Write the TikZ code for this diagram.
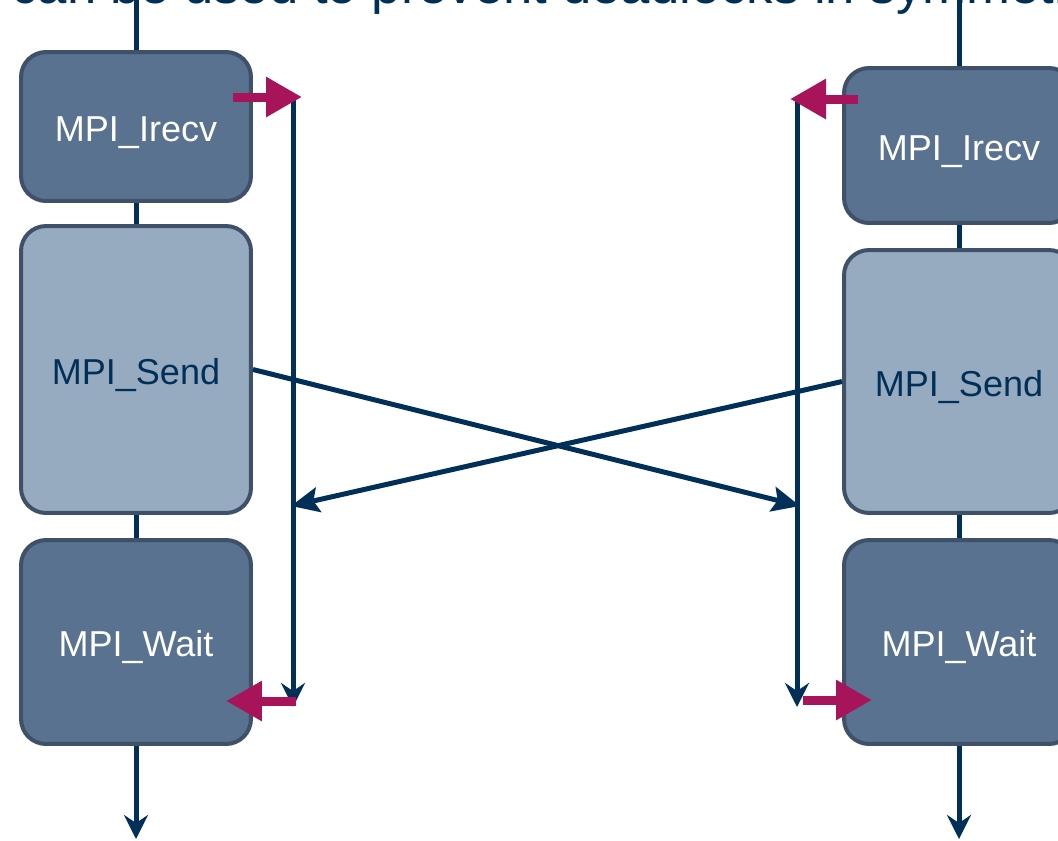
\documentclass[tikz,border=0pt]{standalone}
\usepackage{fontspec}
\setmainfont{Liberation Sans}
\usetikzlibrary{arrows.meta}
\definecolor{navy}{HTML}{003057}
\definecolor{darkbox}{HTML}{587290}
\definecolor{lightbox}{HTML}{97ABC0}
\definecolor{boxedge}{HTML}{3E5169}
\definecolor{sigmag}{HTML}{A8145A}
\begin{document}
\begin{tikzpicture}[x=0.02cm,y=-0.02cm,
  opbox/.style={draw=boxedge, line width=0.08cm, rounded corners=0.5cm,
    minimum width=4.6cm, inner sep=0pt,
    text height=16.5pt, text depth=0pt,
    font=\fontsize{20.5}{24}\selectfont},
  darkop/.style={opbox, fill=darkbox, text=white},
  lightop/.style={opbox, fill=lightbox, text=navy},
  flow/.style={draw=navy, line width=0.1cm},
  timetip/.style={flow, -{Stealth[length=0.48cm,width=0.48cm,inset=0.16cm]}},
  msg/.style={flow, -{Stealth[length=0.56cm,width=0.5cm,inset=0.1cm]}},
  sig/.style={draw=sigmag, line width=0.18cm, -{Triangle[length=0.72cm,width=0.76cm]}}
]
\useasboundingbox (0,0) rectangle (1058,840);

% title (cut off at top)
\node[anchor=base west, inner sep=0pt, text=navy, font=\fontsize{30}{36}\selectfont]
  (title) at (11,3) {can be used to prevent deadlocks in symmetric};

% left process
\node[darkop, minimum height=2.98cm] (L1) at (136,126.5) {MPI\_Irecv};
\node[lightop, minimum height=5.74cm] (L2) at (136,369.5) {MPI\_Send};
\node[darkop, minimum height=4.08cm] (L3) at (136,642) {MPI\_Wait};
\coordinate (ltop) at (136,-5);
\coordinate (lbot) at (136,839);
\draw[flow] (ltop) -- (L1.north);
\draw[flow] (L1.south) -- (L2.north);
\draw[flow] (L2.south) -- (L3.north);
\draw[timetip] (L3.south) -- (lbot);

% right process
\node[darkop, minimum height=3.1cm] (R1) at (959,145.5) {MPI\_Irecv};
\node[lightop, minimum height=5.26cm] (R2) at (959,381.5) {MPI\_Send};
\node[darkop, minimum height=4.08cm] (R3) at (959,642) {MPI\_Wait};
\coordinate (rtop) at (959,-5);
\coordinate (rbot) at (959,839);
\draw[flow] (rtop) -- (R1.north);
\draw[flow] (R1.south) -- (R2.north);
\draw[flow] (R2.south) -- (R3.north);
\draw[timetip] (R3.south) -- (rbot);

% receive buffers (vertical lines)
\coordinate (lv1) at (293,97);
\coordinate (lv2) at (293,707);
\coordinate (rv1) at (797,99);
\coordinate (rv2) at (797,707);
\draw[timetip] (lv1) -- (lv2);
\draw[timetip] (rv1) -- (rv2);

% messages
\coordinate (lx) at (291,506);
\coordinate (rx) at (800,506);
\draw[msg] (L2.east) -- (rx);
\draw[msg] (R2.west) -- (lx);

% magenta signals
\coordinate (s1a) at (233,97);
\coordinate (s1b) at (302,97);
\coordinate (s2a) at (858,99);
\coordinate (s2b) at (790,99);
\coordinate (s3a) at (296,701);
\coordinate (s3b) at (226,701);
\coordinate (s4a) at (803,700);
\coordinate (s4b) at (872,700);
\draw[sig] (s1a) -- (s1b);
\draw[sig] (s2a) -- (s2b);
\draw[sig] (s3a) -- (s3b);
\draw[sig] (s4a) -- (s4b);
\end{tikzpicture}
\end{document}
